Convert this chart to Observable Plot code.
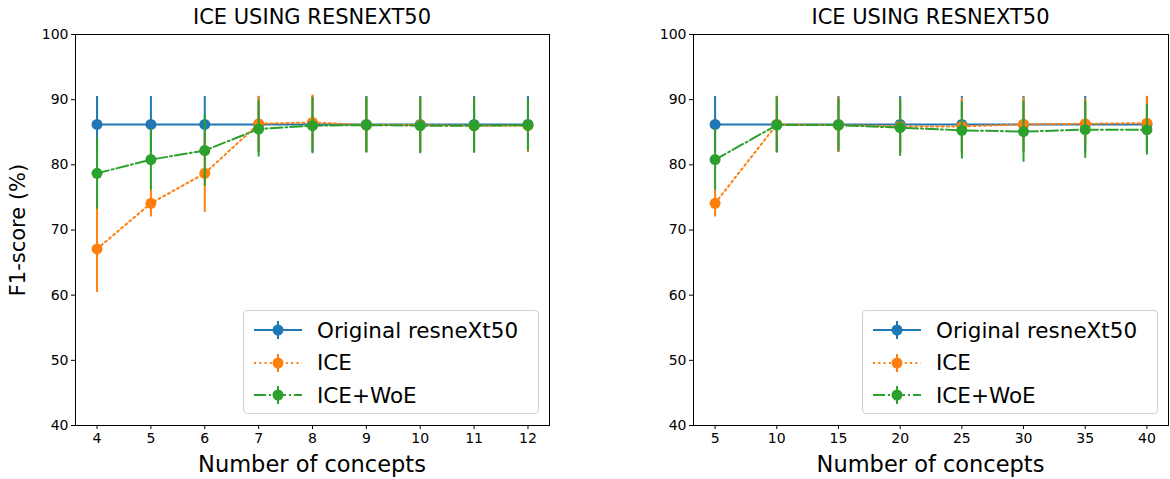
<!DOCTYPE html>
<html>
<head>
<meta charset="utf-8">
<script src="https://cdn.jsdelivr.net/npm/d3@7"></script>
<script src="https://cdn.jsdelivr.net/npm/@observablehq/plot@0.6"></script>
<style>
  html, body { margin: 0; padding: 0; background: #fff; }
  #root { position: relative; width: 1170px; height: 479px; font-family: "DejaVu Sans", sans-serif; color: #000; overflow: hidden; }
  .panel { position: absolute; top: 0; }
  .title { position: absolute; font-size: 21px; white-space: nowrap; transform: translate(-50%, -50%); }
  .xlabel { position: absolute; font-size: 22.5px; white-space: nowrap; transform: translate(-50%, -50%); }
  .ylabel { position: absolute; font-size: 21px; white-space: nowrap; transform: translate(-50%, -50%) rotate(-90deg); }
  .legend { position: absolute; box-sizing: border-box; border: 1px solid #d0d0d0; border-radius: 4px; background: rgba(255,255,255,0.8); }
  .legend .row { position: absolute; left: 0; height: 32px; display: flex; align-items: center; }
  .legend .row span { font-size: 21.5px; margin-left: 14px; white-space: nowrap; }
</style>
</head>
<body>
<div id="root"></div>
<script>
// ---- data ----
const seriesNames = ["Original resneXt50", "ICE", "ICE+WoE"];
const seriesColors = ["#1f77b4", "#ff7f0e", "#2ca02c"];
const seriesDash = [null, "2,3.3", "12,3,2,3"];
const yTicks = [40, 50, 60, 70, 80, 90, 100];

const leftConcepts = [4, 5, 6, 7, 8, 9, 10, 11, 12];
const leftOriginal = [86.2, 86.2, 86.2, 86.2, 86.2, 86.2, 86.2, 86.2, 86.2];
const leftOriginalErr = [4.3, 4.3, 4.3, 4.3, 4.3, 4.3, 4.3, 4.3, 4.3];
const leftICE = [67.1, 74.1, 78.7, 86.3, 86.5, 86.1, 86.1, 86.0, 86.0];
const leftICEErr = [6.7, 2.1, 6.0, 4.2, 4.2, 4.2, 4.2, 4.2, 4.1];
const leftWoE = [78.7, 80.8, 82.2, 85.5, 86.0, 86.1, 86.0, 86.0, 86.1];
const leftWoEErr = [5.5, 4.7, 5.5, 4.3, 4.3, 4.3, 4.3, 4.2, 4.0];

const rightConcepts = [5, 10, 15, 20, 25, 30, 35, 40];
const rightOriginal = [86.2, 86.2, 86.2, 86.2, 86.2, 86.2, 86.2, 86.2];
const rightOriginalErr = [4.3, 4.3, 4.3, 4.3, 4.3, 4.3, 4.3, 4.3];
const rightICE = [74.1, 86.2, 86.1, 85.9, 85.9, 86.2, 86.3, 86.4];
const rightICEErr = [2.1, 4.3, 4.2, 4.2, 4.3, 4.1, 3.8, 4.1];
const rightWoE = [80.8, 86.1, 86.1, 85.7, 85.3, 85.1, 85.4, 85.4];
const rightWoEErr = [4.7, 4.3, 4.0, 4.4, 4.4, 4.7, 4.4, 3.9];

const titleText = "ICE USING RESNEXT50";
const xLabelText = "Number of concepts";
const yLabelText = "F1-score (%)";

// ---- layout ----
const H = 479, MT = 34, MB = 54, PW = 585;

function rowsFor(concepts, vals, errs) {
  return concepts.map((x, i) => ({x, y: vals[i], lo: vals[i] - errs[i], hi: vals[i] + errs[i]}));
}

function panel(concepts, valsList, errsList, marginLeft, marginRight) {
  const xmin = d3.min(concepts), xmax = d3.max(concepts), pad = (xmax - xmin) * 0.05;
  const marks = [];
  valsList.forEach((vals, s) => {
    const data = rowsFor(concepts, vals, errsList[s]);
    const c = seriesColors[s];
    marks.push(Plot.ruleX(data, {x: "x", y1: "lo", y2: "hi", stroke: c, strokeWidth: 2}));
    marks.push(Plot.line(data, {x: "x", y: "y", stroke: c, strokeWidth: 2, strokeDasharray: seriesDash[s] || undefined}));
    marks.push(Plot.dot(data, {x: "x", y: "y", r: 5.5, fill: c, stroke: "none"}));
  });
  marks.push(Plot.frame({stroke: "#000", strokeWidth: 1}));
  return Plot.plot({
    width: PW, height: H,
    marginTop: MT, marginBottom: MB, marginLeft, marginRight,
    style: {fontFamily: "DejaVu Sans, sans-serif", fontSize: "14px", color: "#000", background: "transparent"},
    x: {domain: [xmin - pad, xmax + pad], ticks: concepts, tickFormat: d => String(d), label: null, tickSize: 4, tickPadding: 4},
    y: {domain: [40, 100], ticks: yTicks, tickFormat: d => String(d), label: null, tickSize: 4, tickPadding: 3},
    marks
  });
}

function legend(left, top, width, height) {
  const div = document.createElement("div");
  div.className = "legend";
  Object.assign(div.style, {left: left + "px", top: top + "px", width: width + "px", height: height + "px"});
  seriesNames.forEach((name, s) => {
    const row = document.createElement("div");
    row.className = "row";
    row.style.top = (3 + s * 32.5) + "px";
    row.style.left = "9px";
    const c = seriesColors[s];
    const dash = seriesDash[s] ? `stroke-dasharray="${seriesDash[s]}"` : "";
    row.innerHTML = `<svg width="50" height="32"><line x1="1" x2="49" y1="16" y2="16" stroke="${c}" stroke-width="2" ${dash}/>` +
      `<line x1="25" x2="25" y1="7" y2="25" stroke="${c}" stroke-width="2"/><circle cx="25" cy="16" r="5.5" fill="${c}"/></svg>` +
      `<span>${name}</span>`;
    div.appendChild(row);
  });
  return div;
}

const root = document.getElementById("root");

function addPanel(left, svg, frameL, frameR, showY) {
  const wrap = document.createElement("div");
  wrap.className = "panel";
  wrap.style.left = left + "px";
  wrap.appendChild(svg);
  root.appendChild(wrap);
  const cx = (frameL + frameR) / 2;
  const t = document.createElement("div"); t.className = "title"; t.textContent = titleText;
  t.style.left = cx + "px"; t.style.top = "17px"; root.appendChild(t);
  const xl = document.createElement("div"); xl.className = "xlabel"; xl.textContent = xLabelText;
  xl.style.left = cx + "px"; xl.style.top = "464px"; root.appendChild(xl);
  if (showY) {
    const yl = document.createElement("div"); yl.className = "ylabel"; yl.textContent = yLabelText;
    yl.style.left = "18px"; yl.style.top = ((MT + H - MB) / 2) + "px"; root.appendChild(yl);
  }
}

addPanel(0, panel(leftConcepts, [leftOriginal, leftICE, leftWoE], [leftOriginalErr, leftICEErr, leftWoEErr], 75, PW - 549), 75, 549, true);
addPanel(PW, panel(rightConcepts, [rightOriginal, rightICE, rightWoE], [rightOriginalErr, rightICEErr, rightWoEErr], 693 - PW, 1170 - 1168), 693, 1168, false);

root.appendChild(legend(243, 310, 296, 104));
root.appendChild(legend(862, 310, 296, 104));
</script>
</body>
</html>
